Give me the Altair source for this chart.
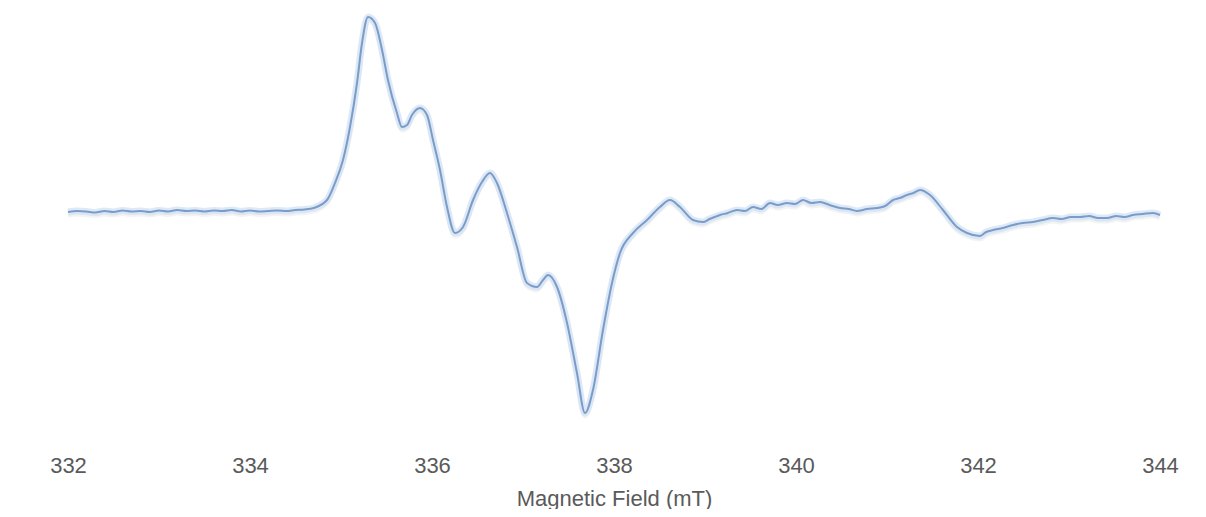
import altair as alt
import pandas as pd

# Magnetic field (mT) and signal intensity (arbitrary units)
field = [
    332.0, 332.1, 332.2, 332.3, 332.4, 332.5, 332.6, 332.7, 332.8, 332.9,
    333.0, 333.1, 333.2, 333.3, 333.4, 333.5, 333.6, 333.7, 333.8, 333.9,
    334.0, 334.1, 334.2, 334.3, 334.4, 334.5, 334.6, 334.7,
    334.846, 334.934, 335.022, 335.099, 335.176, 335.231, 335.297, 335.374,
    335.451, 335.516, 335.615, 335.670, 335.725, 335.780, 335.868, 335.945,
    336.011, 336.088, 336.165, 336.253, 336.341, 336.451, 336.549, 336.637,
    336.714, 336.824, 336.934, 337.044, 337.154, 337.220, 337.275, 337.374,
    337.484, 337.593, 337.681, 337.769, 337.879, 337.978, 338.066, 338.209,
    338.363, 338.505, 338.615, 338.725, 338.868, 338.978, 339.05, 339.165,
    339.25, 339.352, 339.44, 339.527, 339.62, 339.714, 339.80, 339.901,
    339.99, 340.077, 340.17, 340.264, 340.37, 340.484, 340.58, 340.670,
    340.78, 340.890, 340.98, 341.066, 341.14, 341.220, 341.29, 341.363,
    341.473, 341.615, 341.769, 341.879, 342.022, 342.09, 342.165, 342.27,
    342.385, 342.49, 342.604, 342.71, 342.824, 342.92, 343.02, 343.121,
    343.22, 343.32, 343.418, 343.52, 343.61, 343.703, 343.81, 343.923, 344.0,
]
intensity = [
    0, 1, 0.5, -0.5, 1, 0, 1.5, 0.5, 1, 0,
    1.5, 0.5, 2, 1, 1.5, 0.5, 1.5, 1, 2, 0.5,
    1.5, 0.5, 1, 1.5, 1, 2, 2.5, 4,
    12, 29, 52, 85, 129, 169, 195, 189,
    162, 132, 99, 85, 87, 97, 104, 97,
    72, 42, 5, -21, -15, 12, 30, 39,
    29, -1, -35, -71, -75, -68, -63, -75,
    -111, -161, -201, -178, -118, -71, -41, -21,
    -8, 5, 12, 5, -8, -10, -7, -3,
    -1, 2, 1, 5, 3, 9, 7, 9,
    8, 12, 9, 10, 7, 4, 3, 1,
    3, 4, 6, 12, 14, 17, 19, 22,
    17, 2, -15, -21, -24, -20, -18, -16,
    -13, -11, -10, -8, -6, -7, -5, -5,
    -4, -6, -6, -4, -5, -3, -2, -1, -3,
]
tick_values = [332, 334, 336, 338, 340, 342, 344]

df = pd.DataFrame({"field": field, "intensity": intensity})

x_enc = alt.X(
    "field:Q",
    scale=alt.Scale(domain=[332, 344], nice=False, zero=False),
    axis=alt.Axis(
        values=tick_values,
        title="Magnetic Field (mT)",
        grid=False,
        ticks=False,
        domain=False,
        labelFont="Liberation Sans",
        labelFontSize=22,
        labelColor="#5a5a5a",
        labelPadding=25,
        labelFlush=False,
        titleFont="Liberation Sans",
        titleFontSize=22,
        titleFontWeight="normal",
        titleColor="#5a5a5a",
        titlePadding=12,
    ),
)
y_enc = alt.Y(
    "intensity:Q",
    scale=alt.Scale(domain=[-218, 202], nice=False, zero=False),
    axis=None,
)

base = alt.Chart(df).encode(x=x_enc, y=y_enc, order="field:Q")

shadow = base.mark_line(
    color="#8c8c8c", strokeWidth=5, opacity=0.10, yOffset=3, interpolate="monotone"
)
glow = base.mark_line(
    color="#cfe0f4", strokeWidth=7, opacity=0.7, interpolate="monotone"
)
line = base.mark_line(
    color="#7b9cc9", strokeWidth=2, interpolate="monotone"
)

chart = (
    alt.layer(shadow, glow, line)
    .properties(
        width=1092,
        height=420,
        padding={"left": 60, "top": 2, "right": 38, "bottom": 79},
        autosize="none",
        background="white",
    )
    .configure_view(strokeWidth=0, stroke="transparent")
)

chart.save("out.html", embed_options={"renderer": "svg", "actions": False})
